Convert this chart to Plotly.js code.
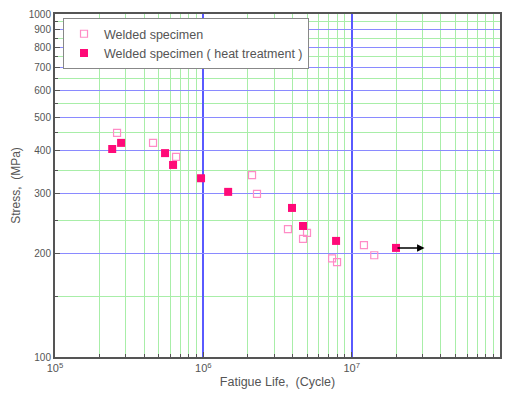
<!DOCTYPE html>
<html>
<head>
<meta charset="utf-8">
<script src="https://cdn.plot.ly/plotly-3.0.1.min.js"></script>
<style>html,body{margin:0;padding:0;background:#fff;}#chart{width:507px;height:396px;}</style>
</head>
<body>
<div id="chart"></div>
<script>
// Welded specimen (open squares)
const weldedCycles = [2.62e5, 4.58e5, 6.55e5, 2.13e6, 2.30e6, 3.72e6, 5.0e6, 4.70e6, 7.38e6, 7.97e6, 1.21e7, 1.42e7];
const weldedStress = [450, 421, 383, 339, 299, 236, 230, 221, 194, 189, 212, 198];
// Welded specimen (heat treatment) (filled squares)
const heatCycles = [2.43e5, 2.79e5, 5.52e5, 6.25e5, 9.65e5, 1.47e6, 3.96e6, 4.70e6, 7.85e6, 1.99e7];
const heatStress = [404, 421, 393, 363, 332, 303, 272, 241, 218, 208];
// Run-out arrow (start, end cycles) at stress
const runoutCycles = [1.99e7, 3.1e7];
const runoutStress = 208;

const xMajor = [1e5, 1e6, 1e7, 1e8];
const xMajorText = ['10<sup>5</sup>', '10<sup>6</sup>', '10<sup>7</sup>', '10<sup>8</sup>'];
const yMajor = [100, 200, 300, 400, 500, 600, 700, 800, 900, 1000];
const yMajorText = ['100', '200', '300', '400', '500', '600', '700', '800', '900', '1000'];
const yMinor = [150, 250, 350, 450, 550, 650, 750, 850, 950];
const legendNames = ['Welded specimen', 'Welded specimen ( heat treatment )'];

const xMinor = [];
[1e5, 1e6, 1e7].forEach(d => { for (let k = 2; k <= 9; k++) xMinor.push(k * d); });

const font = 'Arial, Liberation Sans, sans-serif';

const traces = [
  {
    x: weldedCycles, y: weldedStress, type: 'scatter', mode: 'markers', name: legendNames[0],
    marker: {symbol: 'square-open', size: 7, color: '#ff8cc6', line: {width: 1.2, color: '#ff8cc6'}}
  },
  {
    x: heatCycles, y: heatStress, type: 'scatter', mode: 'markers', name: legendNames[1],
    marker: {symbol: 'square', size: 8, color: '#ff0a78', line: {width: 0}}
  }
];

const layout = {
  width: 507, height: 396,
  margin: {l: 55, r: 7, t: 14, b: 39},
  paper_bgcolor: '#fff', plot_bgcolor: '#fff',
  showlegend: true,
  legend: {
    x: 0.018, y: 0.988, xanchor: 'left', yanchor: 'top',
    bgcolor: '#fff', bordercolor: '#888', borderwidth: 1,
    font: {family: font, size: 12.5, color: '#555'},
    tracegroupgap: 0, itemwidth: 30
  },
  xaxis: {
    type: 'log', range: [5, 8],
    tickmode: 'array', tickvals: xMajor, ticktext: xMajorText,
    ticks: 'inside', ticklen: 5, tickcolor: '#555',
    showgrid: true, gridcolor: '#5a5aff', gridwidth: 2,
    showline: true, linecolor: '#555', linewidth: 2, mirror: true,
    zeroline: false,
    tickfont: {family: font, size: 11, color: '#555'},
    minor: {tickmode: 'array', tickvals: xMinor, ticks: 'inside', ticklen: 3, tickcolor: '#555',
            showgrid: true, gridcolor: '#a8eea8', gridwidth: 1},
    title: {text: 'Fatigue Life,  (Cycle)', standoff: 4,
            font: {family: font, size: 12.5, color: '#555'}}
  },
  yaxis: {
    type: 'log', range: [2, 3],
    tickmode: 'array', tickvals: yMajor, ticktext: yMajorText,
    ticks: 'inside', ticklen: 5, tickcolor: '#555',
    showgrid: true, gridcolor: '#8a8aff', gridwidth: 1,
    showline: true, linecolor: '#555', linewidth: 2, mirror: true,
    zeroline: false,
    tickfont: {family: font, size: 10, color: '#555'},
    minor: {tickmode: 'array', tickvals: yMinor, ticks: 'inside', ticklen: 3, tickcolor: '#555',
            showgrid: true, gridcolor: '#a8eea8', gridwidth: 1},
    title: {text: 'Stress,  (MPa)', standoff: 6,
            font: {family: font, size: 12, color: '#555'}}
  },
  annotations: [{
    x: Math.log10(runoutCycles[1]), y: Math.log10(runoutStress),
    ax: Math.log10(runoutCycles[0]), ay: Math.log10(runoutStress),
    xref: 'x', yref: 'y', axref: 'x', ayref: 'y',
    text: '', showarrow: true, arrowhead: 2, arrowsize: 1, arrowwidth: 1.5, arrowcolor: '#000'
  }]
};

Plotly.newPlot('chart', traces, layout, {displayModeBar: false, staticPlot: true});
</script>
</body>
</html>
